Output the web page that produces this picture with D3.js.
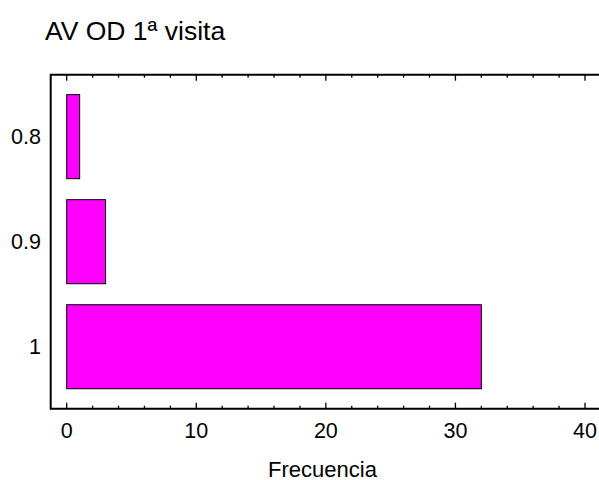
<!DOCTYPE html>
<html>
<head>
<meta charset="utf-8">
<script src="https://cdn.jsdelivr.net/npm/d3@7"></script>
<style>
  body { margin: 0; background: #fff; }
  text { font-family: "Liberation Sans", Arial, sans-serif; fill: #000; }
</style>
</head>
<body>
<div id="vizHolder"></div>
<script>
// data
var categories = ['0.8', '0.9', '1'],
    values     = [1, 3, 32],
    xTicks     = [0, 10, 20, 30, 40],
    title      = 'AV OD 1\u00aa visita',
    xLabel     = 'Frecuencia';

var width = 599, height = 480,
    frame = {left: 50.7, top: 74.7, right: 601, bottom: 408.7},
    pad   = 16;

var svg = d3.select('#vizHolder')
      .append('svg')
      .attr('width', width)
      .attr('height', height);

var xScale = d3.scaleLinear()
      .domain([0, 40])
      .range([frame.left + pad, frame.right - pad]);

var yScale = d3.scaleBand()
      .domain(categories)
      .range([frame.top, frame.bottom])
      .paddingInner(0.2)
      .paddingOuter(0.19);

// bars
svg.selectAll('rect.bar')
  .data(values)
  .enter()
  .append('rect')
    .attr('class', 'bar')
    .attr('x', xScale(0))
    .attr('y', function(d, i){ return yScale(categories[i]); })
    .attr('width', function(d){ return xScale(d) - xScale(0); })
    .attr('height', yScale.bandwidth())
    .attr('fill', '#ff00ff')
    .attr('stroke', '#000')
    .attr('stroke-width', 1);

// frame: left, top, bottom (right side falls off the picture)
svg.append('path')
  .attr('d', 'M' + frame.right + ',' + frame.top + 'H' + frame.left + 'V' + frame.bottom + 'H' + frame.right)
  .attr('fill', 'none')
  .attr('stroke', '#000')
  .attr('stroke-width', 2);

// ticks every 2, bottom pointing up, top pointing down
var minor = d3.range(0, 41, 2);
function tickLen(d){ return d % 10 === 0 ? 6 : 3; }

svg.selectAll('line.tb')
  .data(minor)
  .enter().append('line')
    .attr('class', 'tb')
    .attr('x1', function(d){ return xScale(d); })
    .attr('x2', function(d){ return xScale(d); })
    .attr('y1', frame.bottom)
    .attr('y2', function(d){ return frame.bottom - tickLen(d); })
    .attr('stroke', '#000')
    .attr('stroke-width', 1.3);

svg.selectAll('line.tt')
  .data(minor)
  .enter().append('line')
    .attr('class', 'tt')
    .attr('x1', function(d){ return xScale(d); })
    .attr('x2', function(d){ return xScale(d); })
    .attr('y1', frame.top)
    .attr('y2', function(d){ return frame.top + tickLen(d); })
    .attr('stroke', '#000')
    .attr('stroke-width', 1.3);

// tick labels
svg.selectAll('text.xt')
  .data(xTicks)
  .enter().append('text')
    .attr('class', 'xt')
    .attr('x', function(d){ return xScale(d); })
    .attr('y', 437.5)
    .attr('text-anchor', 'middle')
    .style('font-size', '21.5px')
    .text(function(d){ return d; });

svg.selectAll('text.yt')
  .data(categories)
  .enter().append('text')
    .attr('class', 'yt')
    .attr('x', 41)
    .attr('y', function(d){ return yScale(d) + yScale.bandwidth() / 2; })
    .attr('dy', '0.35em')
    .attr('text-anchor', 'end')
    .style('font-size', '21.5px')
    .text(function(d){ return d; });

svg.append('text')
  .attr('x', 322.5)
  .attr('y', 476.5)
  .attr('text-anchor', 'middle')
  .style('font-size', '22px')
  .text(xLabel);

svg.append('text')
  .attr('x', 45)
  .attr('y', 40)
  .style('font-size', '26.5px')
  .text(title);
</script>
</body>
</html>
